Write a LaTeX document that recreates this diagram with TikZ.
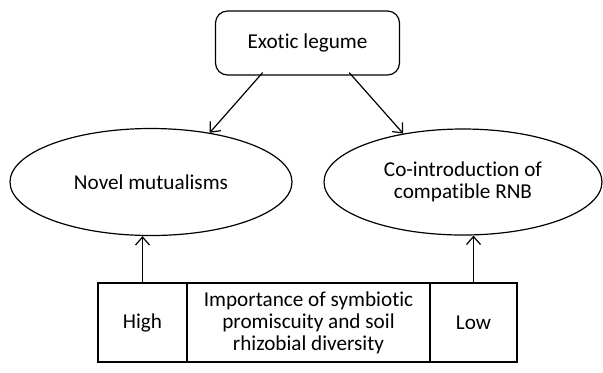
\documentclass[tikz,border=0pt]{standalone}
\usepackage{fontspec}
\setmainfont[Ligatures=NoCommon]{Carlito}
\usetikzlibrary{arrows.meta,positioning,calc,shapes.geometric}

\tikzset{
  blob/.style={draw,ellipse,inner sep=0pt,align=center},
  cell/.style={draw,rectangle,inner sep=0pt,align=center},
}

\begin{document}
\begin{tikzpicture}[>={Straight Barb[length=4pt,width=7pt]},x=0.5pt,y=-0.5pt,
  font=\fontsize{10.6}{11}\selectfont,semithick]
\useasboundingbox (0,0) rectangle (603,372);
\node[cell,rounded corners=6pt,minimum width=92pt,minimum height=32pt] (legume) at (307.5,43) {Exotic legume};
\node[blob,minimum width=141pt,minimum height=53.5pt] (novel) at (151,182) {Novel mutualisms};
\node[blob,minimum width=139pt,minimum height=53pt] (coint) at (463,182) {Co-introduction of\\compatible RNB};
\node[cell,minimum width=44.5pt,minimum height=39.5pt] (high) at (142.5,322.5) {High};
\node[cell,minimum width=121.5pt,minimum height=39.5pt] (imp) at (308.5,322.5) {Importance of symbiotic\\promiscuity and soil\\rhizobial diversity};
\node[cell,minimum width=43.5pt,minimum height=39.5pt] (low) at (473.5,322.5) {Low};
\draw[->] ($(legume.216)+(0,-3)$) -- (novel.40);
\draw[->] ($(legume.322)+(0,-3)$) -- (coint.141);
\draw[->] (high.north) -- (high.north |- novel.south);
\draw[->] (low.north) -- (low.north |- coint.south);
\end{tikzpicture}
\end{document}
